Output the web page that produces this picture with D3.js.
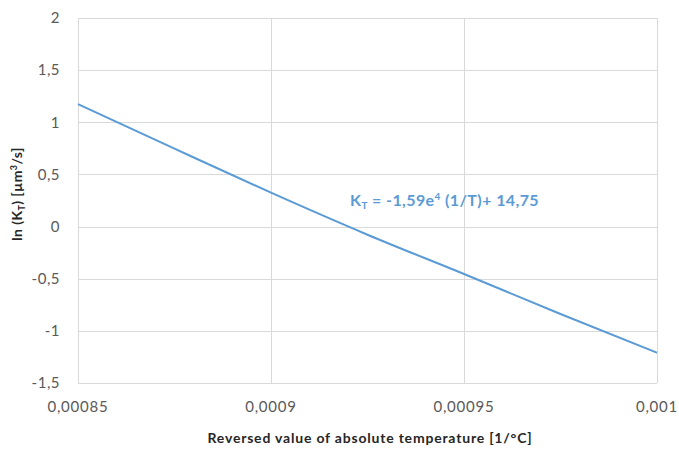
<!DOCTYPE html>
<html><head><meta charset="utf-8">
<script src="https://cdn.jsdelivr.net/npm/d3@7"></script>
<style>body{margin:0;background:#fff}</style>
</head><body>
<svg id="chart" width="679" height="450"></svg>
<script>
const xValues = [0.00085, 0.000875, 0.0009, 0.000925, 0.00095, 0.000975, 0.001];
const yValues = [1.175, 0.747, 0.325, -0.078, -0.455, -0.838, -1.21];
const xTicks = [0.00085, 0.0009, 0.00095, 0.001];
const xTickLabels = ["0,00085", "0,0009", "0,00095", "0,001"];
const yTicks = [-1.5, -1, -0.5, 0, 0.5, 1, 1.5, 2];
const yTickLabels = ["-1,5", "-1", "-0,5", "0", "0,5", "1", "1,5", "2"];

const svg = d3.select("#chart");
const m = {l: 78, r: 657, t: 18, b: 383};
const x = d3.scaleLinear().domain([0.00085, 0.001]).range([m.l, m.r]);
const y = d3.scaleLinear().domain([-1.5, 2]).range([m.b, m.t]);
const font = "Lato, 'Open Sans', sans-serif";

// gridlines
svg.append("g").selectAll("line").data(yTicks).join("line")
  .attr("x1", m.l).attr("x2", m.r)
  .attr("y1", d => Math.round(y(d)) + 0.5).attr("y2", d => Math.round(y(d)) + 0.5)
  .attr("stroke", "#d9d9d9").attr("stroke-width", 1);
svg.append("g").selectAll("line").data(xTicks).join("line")
  .attr("x1", d => Math.round(x(d)) + 0.5).attr("x2", d => Math.round(x(d)) + 0.5)
  .attr("y1", m.t).attr("y2", m.b)
  .attr("stroke", "#d9d9d9").attr("stroke-width", 1);

// y tick labels
svg.append("g").selectAll("text").data(yTicks).join("text")
  .attr("x", 60).attr("y", d => y(d))
  .attr("dy", "0.35em").attr("text-anchor", "end")
  .attr("font-family", font).attr("font-size", 15).attr("letter-spacing", 0.5).attr("fill", "#595959")
  .text((d, i) => yTickLabels[i]);

// x tick labels
svg.append("g").selectAll("text").data(xTicks).join("text")
  .attr("x", d => x(d)).attr("y", 407)
  .attr("dy", "0.35em").attr("text-anchor", "middle")
  .attr("font-family", font).attr("font-size", 15).attr("letter-spacing", 0.8).attr("fill", "#595959")
  .text((d, i) => xTickLabels[i]);

// line
const pts = xValues.map((v, i) => [v, yValues[i]]);
svg.append("path").datum(pts)
  .attr("d", d3.line().curve(d3.curveMonotoneX).x(d => x(d[0])).y(d => y(d[1])))
  .attr("fill", "none").attr("stroke", "#5b9bd5").attr("stroke-width", 2);

// equation
const eq = svg.append("text").attr("x", 350).attr("y", 206)
  .attr("font-family", font).attr("font-size", 16).attr("letter-spacing", 0.4)
  .attr("font-weight", "bold").attr("fill", "#5b9bd5");
eq.append("tspan").text("K");
eq.append("tspan").attr("font-size", 10).attr("dy", 3).text("T");
eq.append("tspan").attr("dy", -3).text(" = -1,59e");
eq.append("tspan").attr("font-size", 10).attr("dy", -6).text("4");
eq.append("tspan").attr("dy", 6).text(" (1/T)+ 14,75");

// x title
svg.append("text").attr("x", 370).attr("y", 438).attr("dy", "0.35em")
  .attr("text-anchor", "middle").attr("font-family", font).attr("font-size", 14)
  .attr("letter-spacing", 0.8)
  .attr("font-weight", "bold").attr("fill", "#262626")
  .text("Reversed value of absolute temperature [1/°C]");

// y title
const yt = svg.append("text").attr("transform", "translate(22,194) rotate(-90)")
  .attr("text-anchor", "middle").attr("font-family", font).attr("font-size", 14)
  .attr("letter-spacing", 0.4)
  .attr("font-weight", "bold").attr("fill", "#262626");
yt.append("tspan").text("ln (K");
yt.append("tspan").attr("font-size", 9).attr("dy", 3).text("T");
yt.append("tspan").attr("dy", -3).text(")  [µm");
yt.append("tspan").attr("font-size", 9).attr("dy", -5).text("3");
yt.append("tspan").attr("dy", 5).text("/s]");
</script>
</body></html>
